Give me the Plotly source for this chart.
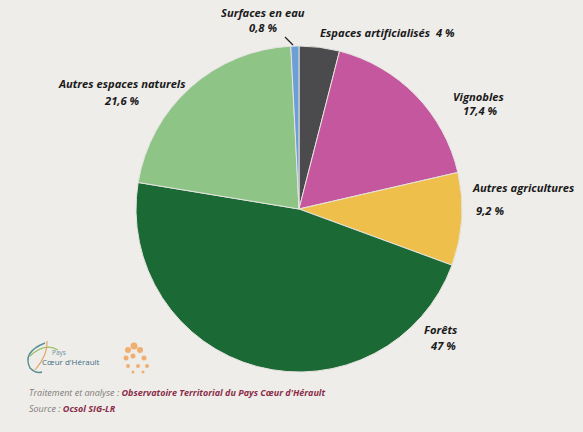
import plotly.graph_objects as go

categories = ["Espaces artificialisés", "Vignobles", "Autres agricultures",
              "Forêts", "Autres espaces naturels", "Surfaces en eau"]
values = [4.0, 17.4, 9.2, 47.0, 21.6, 0.8]
value_labels = ["4 %", "17,4 %", "9,2 %", "47 %", "21,6 %", "0,8 %"]
colors = ["#4b4b4e", "#c4579e", "#eec04b", "#1b6934", "#8ec485", "#6c9fd6"]

W, H = 583, 432
BG = "#efedea"

fig = go.Figure()
fig.add_trace(go.Pie(
    labels=categories, values=values, sort=False, direction="clockwise",
    rotation=0, textinfo="none", hoverinfo="label+percent",
    marker=dict(colors=colors, line=dict(color="#e6e4e0", width=1)),
    domain=dict(x=[136 / W, 462 / W], y=[1 - 372 / H, 1 - 46 / H]),
    showlegend=False,
))

lab_font = dict(family="Open Sans, Lato, sans-serif", size=11.2, color="#1a1a1a",
                weight="bold", style="italic")

def px(x):
    return x / W

def py(y):
    return 1 - y / H

def ann(x, y, text, xanchor="center", font=None):
    fig.add_annotation(x=px(x), y=py(y), xref="paper", yref="paper", text=text,
                       showarrow=False, xanchor=xanchor, yanchor="middle",
                       font=font or lab_font, align="center")

# Labels
ann(263, 13, categories[5])
ann(263, 27, value_labels[5])
ann(318, 33, categories[0] + "  " + value_labels[0], xanchor="left")
ann(478, 96, categories[1])
ann(481, 111, value_labels[1])
ann(470, 188, categories[2], xanchor="left")
ann(474, 210, value_labels[2], xanchor="left")
ann(441, 329, categories[3])
ann(443, 345, value_labels[3])
ann(122, 84, categories[4])
ann(122, 100, value_labels[4])

# leader line for the water slice
fig.add_shape(type="line", xref="paper", yref="paper",
              x0=px(285), y0=py(37), x1=px(293), y1=py(45),
              line=dict(color="#222222", width=1.2))

# Footer
foot_grey = dict(family="Open Sans, sans-serif", size=9, color="#7f7b79", style="italic")
fig.add_annotation(x=px(27), y=py(392), xref="paper", yref="paper", showarrow=False,
                   xanchor="left", yanchor="middle", font=foot_grey,
                   text="Traitement et analyse : <b><span style='color:#8a2d4a'>Observatoire Territorial du Pays Cœur d'Hérault</span></b>")
fig.add_annotation(x=px(27), y=py(408), xref="paper", yref="paper", showarrow=False,
                   xanchor="left", yanchor="middle", font=foot_grey,
                   text="Source : <b><span style='color:#8a2d4a'>Ocsol SIG-LR</span></b>")

# Logo 1: Pays Coeur d'Hérault (approximation)
fig.add_shape(type="path", xref="paper", yref="paper",
              path=f"M {px(45)} {py(343)} Q {px(22)} {py(352)} {px(30)} {py(368)} Q {px(36)} {py(374)} {px(42)} {py(372)}",
              line=dict(color="#5a8f96", width=1.5))
fig.add_shape(type="path", xref="paper", yref="paper",
              path=f"M {px(30)} {py(356)} Q {px(45)} {py(342)} {px(58)} {py(350)}",
              line=dict(color="#9cc06a", width=1.3))
fig.add_shape(type="path", xref="paper", yref="paper",
              path=f"M {px(35)} {py(370)} Q {px(48)} {py(355)} {px(47)} {py(341)}",
              line=dict(color="#e0a15a", width=1.1))
ann(50, 352, "Pays", xanchor="left",
    font=dict(family="Open Sans, sans-serif", size=6.5, color="#6a8fa0"))
ann(40, 361, "Cœur d'Hérault", xanchor="left",
    font=dict(family="Liberation Sans Narrow, Open Sans, sans-serif", size=8, color="#3d6e86"))

# Logo 2: orange emblem (approximation)
for (x, y, r) in [(128, 350, 3), (134, 346, 3.5), (140, 350, 3), (126, 358, 2.5),
                  (133, 356, 2.5), (144, 358, 2.5), (128, 366, 2), (138, 366, 2),
                  (147, 366, 2), (133, 372, 1.5), (143, 372, 1.5)]:
    fig.add_shape(type="circle", xref="paper", yref="paper",
                  x0=px(x - r), x1=px(x + r), y0=py(y - r), y1=py(y + r),
                  fillcolor="#f0a35c", line=dict(width=0), opacity=0.85)

fig.update_layout(width=W, height=H, margin=dict(l=0, r=0, t=0, b=0),
                  paper_bgcolor=BG, plot_bgcolor=BG)

fig.write_html("out.html", config={"displayModeBar": False},
               post_script="document.body.style.margin='0';document.body.style.background='#efedea';")
